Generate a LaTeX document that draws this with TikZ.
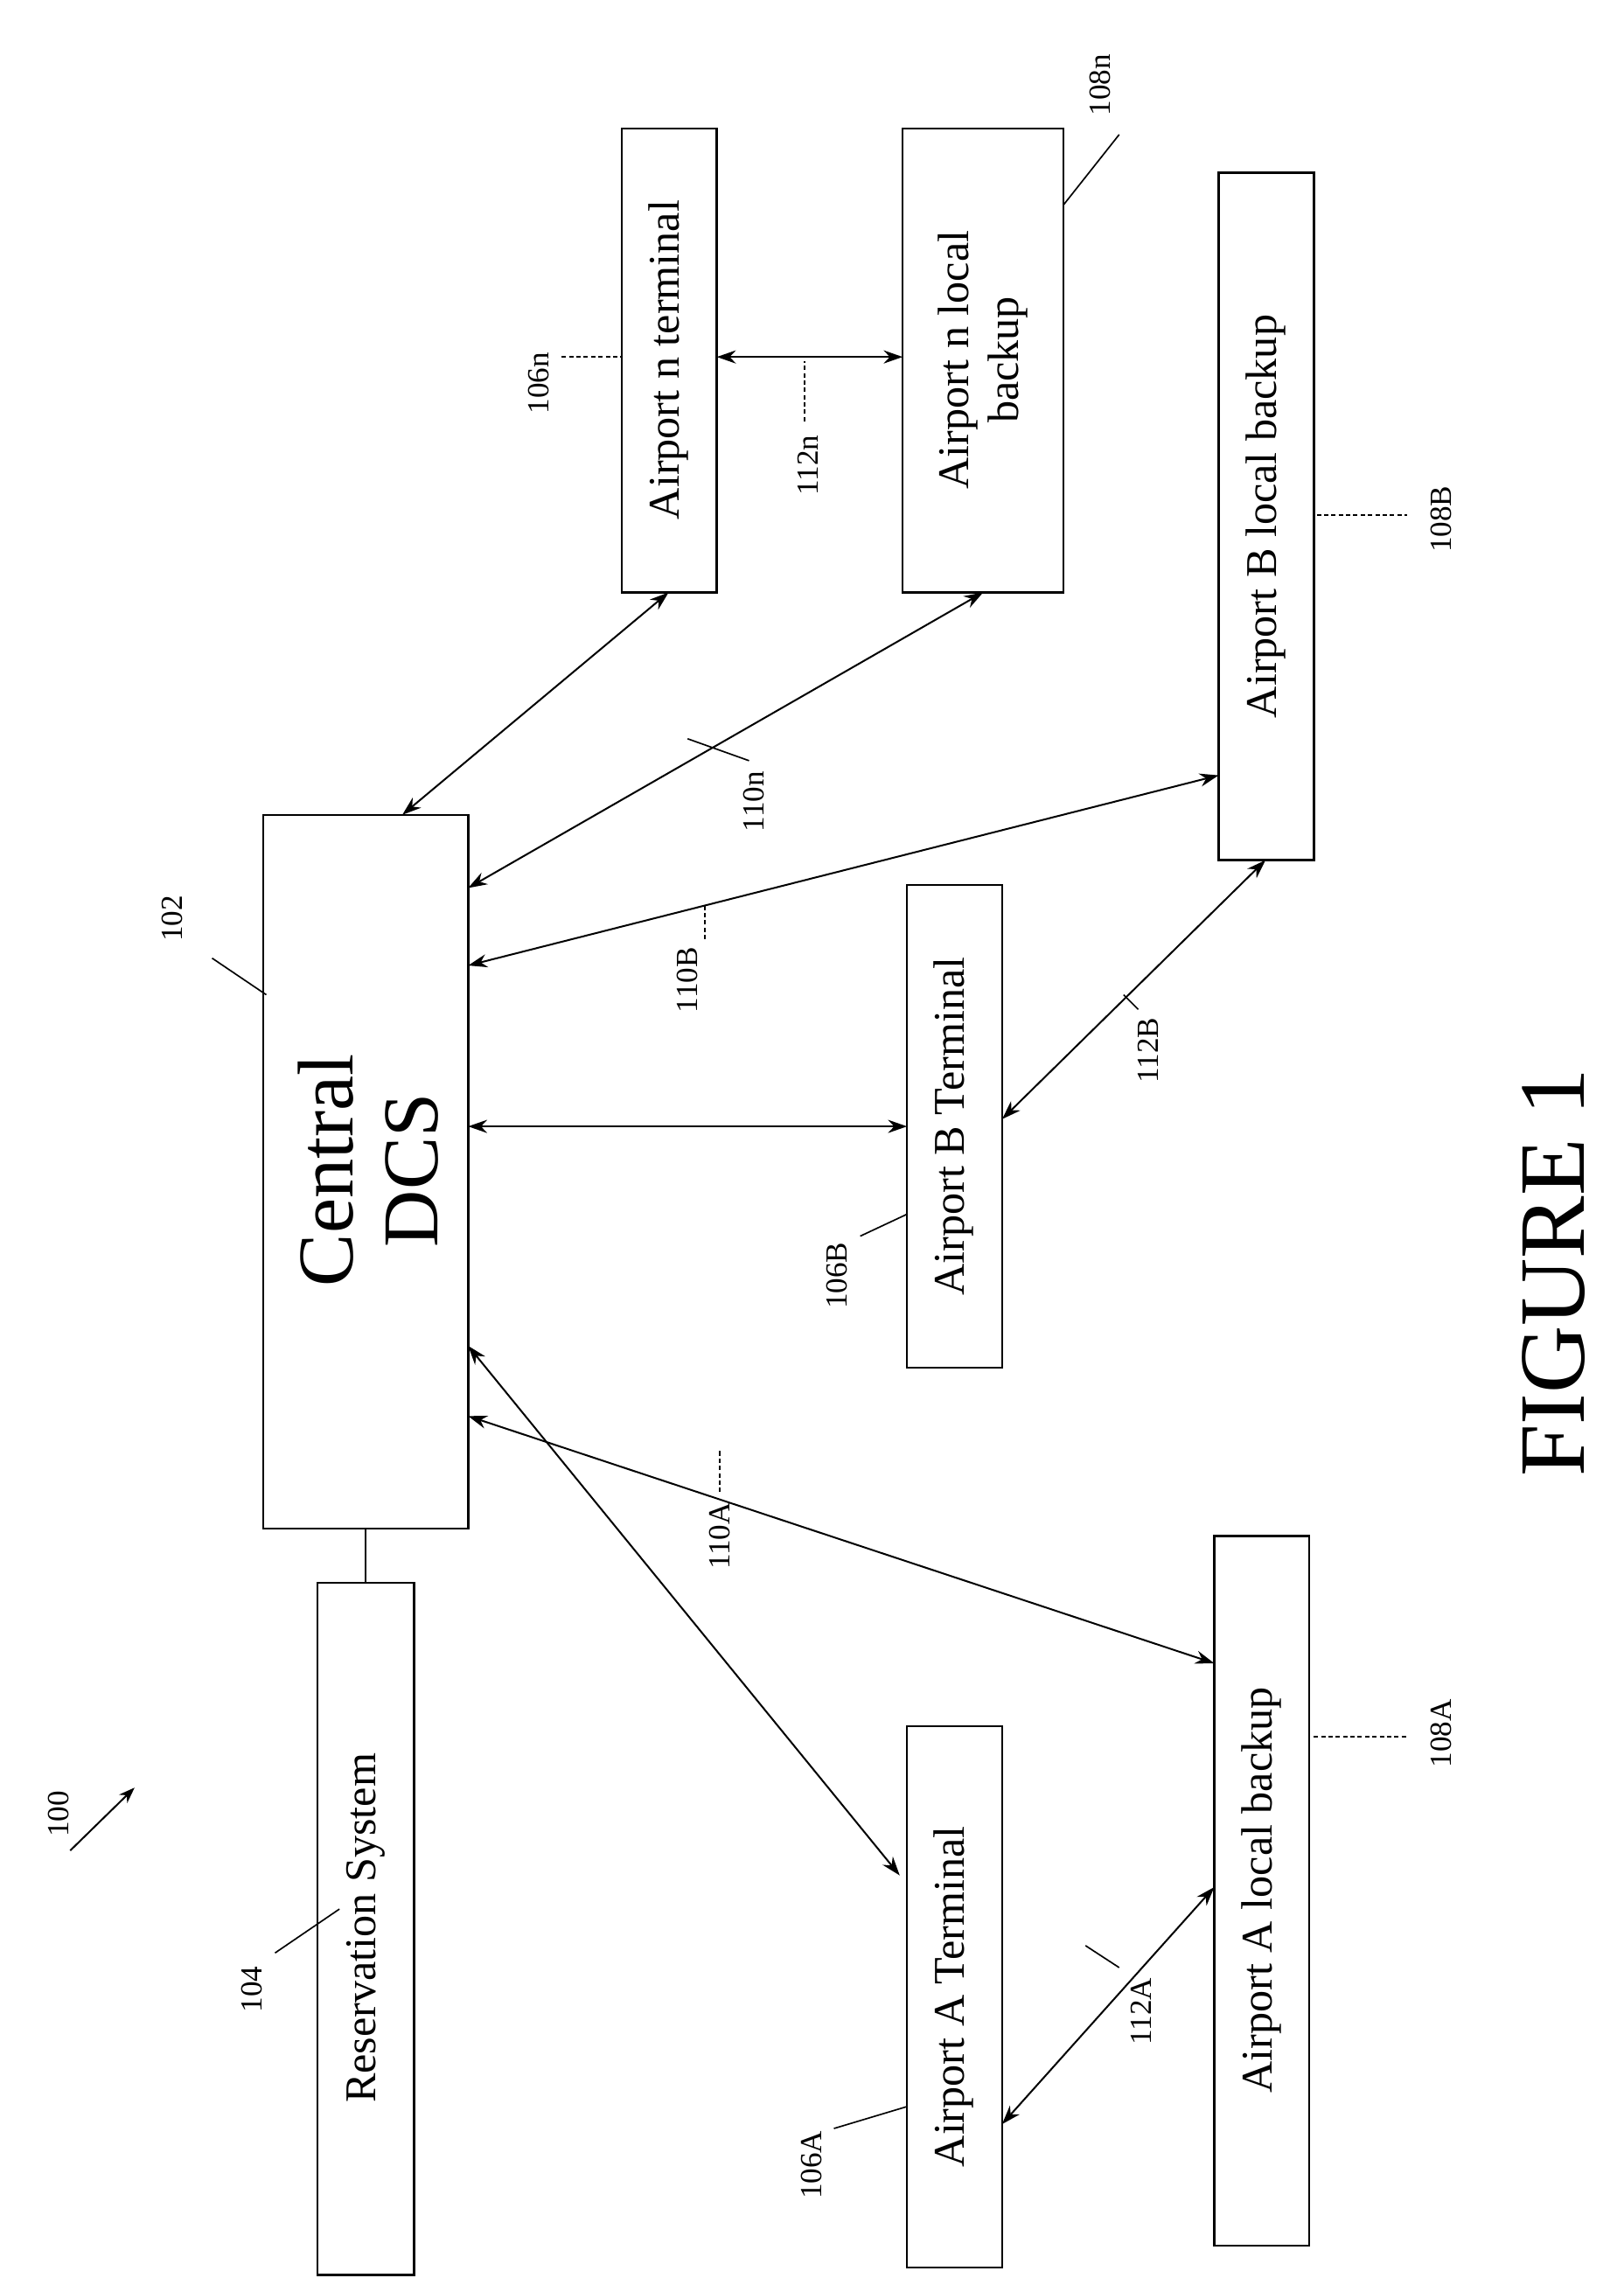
\documentclass[tikz,border=0pt]{standalone}
\usepackage{fontspec}
\setmainfont{Liberation Serif}
\usetikzlibrary{arrows.meta}
\begin{document}
\begin{tikzpicture}[x=1pt,y=-1pt,
  box/.style={draw,line width=1.5pt,inner sep=0pt},
  bt/.style={rotate=90,font=\fontsize{30}{32}\selectfont},
  lab/.style={rotate=90,font=\fontsize{21}{23}\selectfont},
  con/.style={line width=1.2pt,{Stealth[length=13pt,width=9pt]}-{Stealth[length=13pt,width=9pt]}},
  ld/.style={line width=1pt},
  ldd/.style={line width=1pt,dash pattern=on 3pt off 2pt}]
\useasboundingbox (0,0) rectangle (1110,1562);
\draw[box] (217,1082) rectangle (283,1555);
\node[bt] (res) at (250,1318) {Reservation System};
\draw[box] (180,557) rectangle (320,1045);
\node[rotate=90,align=center,font=\fontsize{54}{58}\selectfont] (dcs) at (252,800) {Central\\DCS};
\draw[box] (620,1180) rectangle (685,1550);
\node[bt] (at) at (652,1365) {Airport A Terminal};
\draw[box] (830,1050) rectangle (895,1535);
\node[bt] (ab) at (862,1292) {Airport A local backup};
\draw[box] (620,605) rectangle (685,935);
\node[bt] (btm) at (652,770) {Airport B Terminal};
\draw[box] (833,118) rectangle (898,588);
\node[bt] (bb) at (865,353) {Airport B local backup};
\draw[box] (425,88) rectangle (490,405);
\node[bt] (nt) at (457,246) {Airport n terminal};
\draw[box] (617,88) rectangle (727,405);
\node[bt,align=center,font=\fontsize{30}{34}\selectfont] (nb) at (672,246) {Airport n local\\backup};
\coordinate (r1) at (250,1082); \coordinate (d0) at (250,1045);
\draw[line width=1.5pt] (r1) -- (d0);
\coordinate (d1) at (320,920); \coordinate (a1) at (615,1282);
\draw[con] (d1) -- (a1);
\coordinate (d2) at (320,968); \coordinate (a2) at (830,1137);
\draw[con] (d2) -- (a2);
\coordinate (a3) at (685,1452); \coordinate (a4) at (830,1290);
\draw[con] (a3) -- (a4);
\coordinate (d3) at (320,770); \coordinate (b1) at (620,770);
\draw[con] (d3) -- (b1);
\coordinate (d4) at (320,660); \coordinate (b2) at (833,530);
\draw[con] (d4) -- (b2);
\coordinate (b3) at (685,765); \coordinate (b4) at (865,588);
\draw[con] (b3) -- (b4);
\coordinate (d5) at (320,607); \coordinate (n1) at (672,405);
\draw[con] (d5) -- (n1);
\coordinate (d6) at (275,557); \coordinate (n2) at (457,405);
\draw[con] (d6) -- (n2);
\coordinate (n3) at (490,244); \coordinate (n4) at (617,244);
\draw[con] (n3) -- (n4);
\node[lab] (l100) at (40,1240) {100};
\coordinate (p1) at (48,1265); \coordinate (p2) at (92,1222);
\draw[line width=1.2pt,-{Stealth[length=11pt,width=8pt]}] (p1) -- (p2);
\node[lab] (l104) at (172,1360) {104};
\coordinate (q1) at (188,1335); \coordinate (q2) at (232,1305);
\draw[ld] (q1) -- (q2);
\node[lab] (l102) at (118,628) {102};
\coordinate (q3) at (145,655); \coordinate (q4) at (182,680);
\draw[ld] (q3) -- (q4);
\node[lab] (l106A) at (555,1480) {106A};
\coordinate (q5) at (570,1455); \coordinate (q6) at (620,1440);
\draw[ld] (q5) -- (q6);
\node[lab] (l112A) at (780,1375) {112A};
\coordinate (q7) at (765,1345); \coordinate (q8) at (742,1330);
\draw[ld] (q7) -- (q8);
\node[lab] (l108A) at (985,1185) {108A};
\coordinate (q9) at (898,1187); \coordinate (q10) at (962,1187);
\draw[ldd] (q9) -- (q10);
\node[lab] (l110A) at (492,1050) {110A};
\coordinate (q11) at (492,1020); \coordinate (q12) at (492,992);
\draw[ldd] (q11) -- (q12);
\node[lab] (l106B) at (572,872) {106B};
\coordinate (q13) at (588,845); \coordinate (q14) at (620,830);
\draw[ld] (q13) -- (q14);
\node[lab] (l112B) at (785,718) {112B};
\coordinate (q15) at (778,690); \coordinate (q16) at (768,680);
\draw[ld] (q15) -- (q16);
\node[lab] (l110B) at (470,670) {110B};
\coordinate (q17) at (482,642); \coordinate (q18) at (482,618);
\draw[ldd] (q17) -- (q18);
\node[lab] (l110n) at (515,548) {110n};
\coordinate (q19) at (512,520); \coordinate (q20) at (470,505);
\draw[ld] (q19) -- (q20);
\node[lab] (l108B) at (985,355) {108B};
\coordinate (q21) at (900,352); \coordinate (q22) at (962,352);
\draw[ldd] (q21) -- (q22);
\node[lab] (l106n) at (368,262) {106n};
\coordinate (q23) at (384,244); \coordinate (q24) at (425,244);
\draw[ldd] (q23) -- (q24);
\node[lab] (l112n) at (552,318) {112n};
\coordinate (q25) at (550,288); \coordinate (q26) at (550,247);
\draw[ldd] (q25) -- (q26);
\node[lab] (l108n) at (752,58) {108n};
\coordinate (q27) at (727,140); \coordinate (q28) at (765,92);
\draw[ld] (q27) -- (q28);
\node[rotate=90,font=\fontsize{64}{68}\selectfont] (fig) at (1062,870) {FIGURE 1};
\end{tikzpicture}
\end{document}
